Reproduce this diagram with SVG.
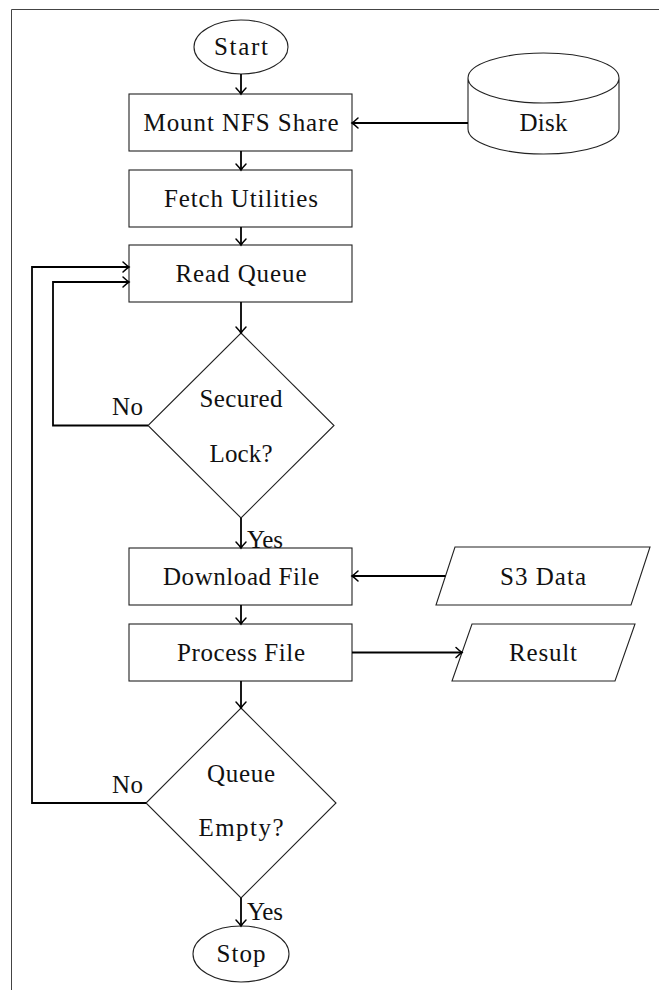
<svg xmlns="http://www.w3.org/2000/svg" width="659" height="990" viewBox="0 0 659 990">
<defs>
<style>
.node{fill:#fff;stroke:#222;stroke-width:1.1}
.t{font-family:"Liberation Serif","Times New Roman",serif;font-size:25px;fill:#111;text-anchor:middle}
.lbl{font-family:"Liberation Serif","Times New Roman",serif;font-size:25px;fill:#111}
.c{fill:none;stroke:#000;stroke-width:1.8}
.frame{fill:none;stroke:#444;stroke-width:1}
</style>
<marker id="arr" markerUnits="userSpaceOnUse" markerWidth="14" markerHeight="14" viewBox="-8 -7 10 14" refX="0" refY="0" orient="auto">
<path d="M-6,-5 Q-2,-1.2 0,0 Q-2,1.2 -6,5" fill="none" stroke="#000" stroke-width="1.5" stroke-linecap="round"/>
</marker>
</defs>
<rect width="659" height="990" fill="#fff"/>
<path class="frame" d="M11.5,990 V9.5 H659"/>

<g id="start"><ellipse class="node" cx="241" cy="47" rx="47" ry="27"/><text class="t" x="241" y="55" textLength="54">Start</text></g>
<g id="mount"><rect class="node" x="129" y="94" width="223" height="57"/><text class="t" x="241" y="131" textLength="195">Mount NFS Share</text></g>
<g id="disk"><path class="node" d="M468,78 V129 A75.5,25 0 0 0 619,129 V78 A75.5,25 0 0 0 468,78 A75.5,25 0 0 0 619,78"/><text class="t" x="543.5" y="131" textLength="48">Disk</text></g>
<g id="fetch"><rect class="node" x="129" y="170" width="223" height="57"/><text class="t" x="241" y="207" textLength="154">Fetch Utilities</text></g>
<g id="read"><rect class="node" x="129" y="245" width="223" height="57"/><text class="t" x="241" y="282" textLength="131">Read Queue</text></g>
<g id="lock"><polygon class="node" points="241,333 334,425.5 241,518 148,425.5"/><text class="t" x="241" y="407" textLength="83">Secured</text><text class="t" x="241" y="462" textLength="63">Lock?</text></g>
<g id="download"><rect class="node" x="129" y="548" width="223" height="57"/><text class="t" x="241" y="585" textLength="156">Download File</text></g>
<g id="s3"><polygon class="node" points="455,547 650,547 631,605 436,605"/><text class="t" x="543" y="585" textLength="86">S3 Data</text></g>
<g id="process"><rect class="node" x="129" y="624" width="223" height="57"/><text class="t" x="241" y="661" textLength="128">Process File</text></g>
<g id="result"><polygon class="node" points="472,624 635,624 615,681 452,681"/><text class="t" x="543" y="661" textLength="68">Result</text></g>
<g id="empty"><polygon class="node" points="241,708 336,803 241,898 146,803"/><text class="t" x="241" y="782" textLength="68">Queue</text><text class="t" x="241" y="836" textLength="85">Empty?</text></g>
<g id="stop"><ellipse class="node" cx="241" cy="954" rx="48" ry="28"/><text class="t" x="241" y="962" textLength="49">Stop</text></g>

<g id="connectors">
<line class="c" x1="241" y1="74" x2="241" y2="94" marker-end="url(#arr)"/>
<line class="c" x1="468" y1="123" x2="352" y2="123" marker-end="url(#arr)"/>
<line class="c" x1="241" y1="151" x2="241" y2="170" marker-end="url(#arr)"/>
<line class="c" x1="241" y1="227" x2="241" y2="245" marker-end="url(#arr)"/>
<line class="c" x1="241" y1="302" x2="241" y2="333" marker-end="url(#arr)"/>
<polyline class="c" points="148,425.5 53,425.5 53,282 129,282" marker-end="url(#arr)"/>
<line class="c" x1="241" y1="518" x2="241" y2="548" marker-end="url(#arr)"/>
<line class="c" x1="445.5" y1="576" x2="352" y2="576" marker-end="url(#arr)"/>
<line class="c" x1="241" y1="605" x2="241" y2="624" marker-end="url(#arr)"/>
<line class="c" x1="352" y1="652.5" x2="462" y2="652.5" marker-end="url(#arr)"/>
<line class="c" x1="241" y1="681" x2="241" y2="708" marker-end="url(#arr)"/>
<polyline class="c" points="146,803 32,803 32,267 129,267" marker-end="url(#arr)"/>
<line class="c" x1="241" y1="898" x2="241" y2="926" marker-end="url(#arr)"/>
<text class="lbl" x="112" y="415" textLength="31">No</text>
<text class="lbl" x="247" y="548" textLength="36">Yes</text>
<text class="lbl" x="112" y="793" textLength="31">No</text>
<text class="lbl" x="247" y="920" textLength="36">Yes</text>
</g>
</svg>
